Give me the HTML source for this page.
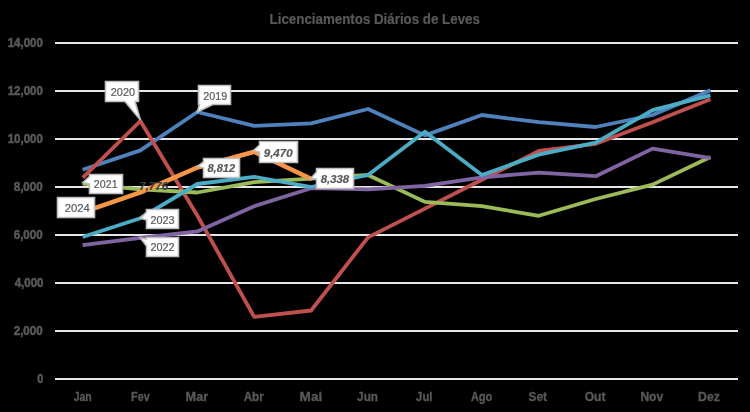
<!DOCTYPE html>
<html><head><meta charset="utf-8"><title>Licenciamentos Diários de Leves</title><style>
html,body{margin:0;padding:0;background:#000;}
body{width:750px;height:412px;overflow:hidden;}
svg{display:block;}
text{font-family:"Liberation Sans",sans-serif;}
</style></head><body>
<svg style="will-change:transform" width="750" height="412" viewBox="0 0 750 412">
<rect width="750" height="412" fill="#000"/>
<text x="269.60" y="24.00" font-size="15.28" font-weight="bold" stroke="#595959" stroke-width="0.2" fill="#595959" textLength="210.29" lengthAdjust="spacingAndGlyphs">Licenciamentos Diários de Leves</text>
<rect x="55" y="42" width="683" height="2" fill="#E6E6E6"/>
<rect x="55" y="90" width="683" height="2" fill="#E6E6E6"/>
<rect x="55" y="138" width="683" height="2" fill="#E6E6E6"/>
<rect x="55" y="186" width="683" height="2" fill="#E6E6E6"/>
<rect x="55" y="234" width="683" height="2" fill="#E6E6E6"/>
<rect x="55" y="282" width="683" height="2" fill="#E6E6E6"/>
<rect x="55" y="330" width="683" height="2" fill="#E6E6E6"/>
<rect x="55" y="378" width="683" height="2" fill="#E6E6E6"/>
<text x="7.70" y="47.00" font-size="12.50" font-weight="bold" stroke="#595959" stroke-width="0.5" fill="#595959" textLength="35.08" lengthAdjust="spacingAndGlyphs">14,000</text>
<text x="7.70" y="95.00" font-size="12.50" font-weight="bold" stroke="#595959" stroke-width="0.5" fill="#595959" textLength="35.08" lengthAdjust="spacingAndGlyphs">12,000</text>
<text x="7.70" y="143.00" font-size="12.50" font-weight="bold" stroke="#595959" stroke-width="0.5" fill="#595959" textLength="35.08" lengthAdjust="spacingAndGlyphs">10,000</text>
<text x="13.70" y="191.00" font-size="12.50" font-weight="bold" stroke="#595959" stroke-width="0.5" fill="#595959" textLength="29.06" lengthAdjust="spacingAndGlyphs">8,000</text>
<text x="13.70" y="239.00" font-size="12.50" font-weight="bold" stroke="#595959" stroke-width="0.5" fill="#595959" textLength="29.06" lengthAdjust="spacingAndGlyphs">6,000</text>
<text x="14.70" y="287.00" font-size="12.50" font-weight="bold" stroke="#595959" stroke-width="0.5" fill="#595959" textLength="28.83" lengthAdjust="spacingAndGlyphs">4,000</text>
<text x="13.70" y="335.00" font-size="12.50" font-weight="bold" stroke="#595959" stroke-width="0.5" fill="#595959" textLength="29.06" lengthAdjust="spacingAndGlyphs">2,000</text>
<text x="37.20" y="383.00" font-size="12.50" font-weight="bold" stroke="#595959" stroke-width="0.5" fill="#595959" textLength="6.02" lengthAdjust="spacingAndGlyphs">0</text>
<text x="73.66" y="401.00" font-size="12.50" font-weight="bold" stroke="#595959" stroke-width="0.3" fill="#595959" textLength="18.14" lengthAdjust="spacingAndGlyphs">Jan</text>
<text x="131.10" y="401.00" font-size="12.50" font-weight="bold" stroke="#595959" stroke-width="0.3" fill="#595959" textLength="18.60" lengthAdjust="spacingAndGlyphs">Fev</text>
<text x="185.61" y="401.00" font-size="12.50" font-weight="bold" stroke="#595959" stroke-width="0.3" fill="#595959" textLength="22.60" lengthAdjust="spacingAndGlyphs">Mar</text>
<text x="243.70" y="401.00" font-size="12.50" font-weight="bold" stroke="#595959" stroke-width="0.3" fill="#595959" textLength="20.12" lengthAdjust="spacingAndGlyphs">Abr</text>
<text x="299.60" y="401.00" font-size="12.50" font-weight="bold" stroke="#595959" stroke-width="0.3" fill="#595959" textLength="22.64" lengthAdjust="spacingAndGlyphs">Mai</text>
<text x="357.10" y="401.00" font-size="12.50" font-weight="bold" stroke="#595959" stroke-width="0.3" fill="#595959" textLength="20.90" lengthAdjust="spacingAndGlyphs">Jun</text>
<text x="416.09" y="401.00" font-size="12.50" font-weight="bold" stroke="#595959" stroke-width="0.3" fill="#595959" textLength="16.39" lengthAdjust="spacingAndGlyphs">Jul</text>
<text x="470.90" y="401.00" font-size="12.50" font-weight="bold" stroke="#595959" stroke-width="0.3" fill="#595959" textLength="21.41" lengthAdjust="spacingAndGlyphs">Ago</text>
<text x="528.60" y="401.00" font-size="12.50" font-weight="bold" stroke="#595959" stroke-width="0.3" fill="#595959" textLength="18.43" lengthAdjust="spacingAndGlyphs">Set</text>
<text x="584.70" y="401.00" font-size="12.50" font-weight="bold" stroke="#595959" stroke-width="0.3" fill="#595959" textLength="20.77" lengthAdjust="spacingAndGlyphs">Out</text>
<text x="640.40" y="401.00" font-size="12.50" font-weight="bold" stroke="#595959" stroke-width="0.3" fill="#595959" textLength="22.84" lengthAdjust="spacingAndGlyphs">Nov</text>
<text x="698.05" y="401.00" font-size="12.50" font-weight="bold" stroke="#595959" stroke-width="0.3" fill="#595959" textLength="21.76" lengthAdjust="spacingAndGlyphs">Dez</text>
<polyline points="82.61,169.77 140.38,150.40 197.29,112.00 254.21,125.80 311.12,123.40 368.04,109.00 424.96,135.40 481.88,115.00 538.79,122.20 595.71,127.00 652.62,115.00 710.37,90.24" fill="none" stroke="#4F81BD" stroke-width="3.8" stroke-linejoin="round" stroke-linecap="butt"/>
<polyline points="82.82,177.55 140.38,121.00 197.29,215.51 254.21,316.84 311.12,310.50 368.04,237.40 424.96,208.60 481.88,179.80 538.79,151.00 595.71,143.80 652.62,122.20 710.38,99.16" fill="none" stroke="#C0504D" stroke-width="3.8" stroke-linejoin="round" stroke-linecap="butt"/>
<polyline points="82.56,183.62 140.38,189.40 197.29,192.50 254.21,182.20 311.12,178.60 368.04,175.00 424.96,201.88 481.88,206.20 538.79,215.80 595.71,199.00 652.62,184.60 710.35,157.09" fill="none" stroke="#9BBB59" stroke-width="3.8" stroke-linejoin="round" stroke-linecap="butt"/>
<polyline points="82.57,245.12 140.38,237.90 197.29,231.40 254.21,206.20 311.12,188.20 368.04,189.40 424.96,185.80 481.88,177.40 538.79,172.60 595.71,176.20 652.62,148.60 710.43,158.11" fill="none" stroke="#8064A2" stroke-width="3.8" stroke-linejoin="round" stroke-linecap="butt"/>
<polyline points="82.60,236.96 140.38,218.20 197.29,184.00 254.21,176.80 311.12,187.00 368.04,175.00 424.96,131.80 481.88,175.00 538.79,154.60 595.71,142.60 652.62,110.20 710.41,95.29" fill="none" stroke="#4BACC6" stroke-width="3.8" stroke-linejoin="round" stroke-linecap="butt"/>
<polyline points="82.61,212.40 140.38,192.38 197.29,167.51 254.21,151.72 311.94,179.28" fill="none" stroke="#F79646" stroke-width="4.6" stroke-linejoin="round" stroke-linecap="butt"/>
<path d="M105.5,81.5 H138.5 V101.5 H135 L140.4,120 L125,101.5 H105.5 Z" fill="#FFFFFF" stroke="#BFBFBF" stroke-width="1.6" stroke-linejoin="miter"/>
<text x="110.73" y="96.00" font-size="11.80" stroke="#595959" stroke-width="0.2" fill="#595959" textLength="24.36" lengthAdjust="spacingAndGlyphs">2020</text>
<path d="M198.5,85.5 H230.5 V104.5 H212.8 L197.3,112 L199.5,104.5 H198.5 Z" fill="#FFFFFF" stroke="#BFBFBF" stroke-width="1.6" stroke-linejoin="miter"/>
<text x="203.28" y="100.00" font-size="11.80" stroke="#595959" stroke-width="0.2" fill="#595959" textLength="23.90" lengthAdjust="spacingAndGlyphs">2019</text>
<path d="M89.5,174.5 H122.5 V193.5 H89.5 V184 L82.8,182.6 L89.5,176.5 Z" fill="#FFFFFF" stroke="#BFBFBF" stroke-width="1.6" stroke-linejoin="miter"/>
<text x="93.83" y="188.00" font-size="11.80" stroke="#595959" stroke-width="0.2" fill="#595959" textLength="23.80" lengthAdjust="spacingAndGlyphs">2021</text>
<path d="M57.5,197.5 H94.5 V217.5 H57.5 Z" fill="#FFFFFF" stroke="#BFBFBF" stroke-width="1.6" stroke-linejoin="miter"/>
<text x="64.67" y="212.00" font-size="11.80" stroke="#595959" stroke-width="0.2" fill="#595959" textLength="25.20" lengthAdjust="spacingAndGlyphs">2024</text>
<path d="M146.5,209.5 H178.5 V228.5 H146.5 V220 L140.4,218.2 L146.5,212 Z" fill="#FFFFFF" stroke="#BFBFBF" stroke-width="1.6" stroke-linejoin="miter"/>
<text x="150.39" y="224.00" font-size="11.80" stroke="#595959" stroke-width="0.2" fill="#595959" textLength="24.21" lengthAdjust="spacingAndGlyphs">2023</text>
<path d="M146.5,237.5 H178.5 V256.5 H146.5 V246 L140.4,238 L146.5,239 Z" fill="#FFFFFF" stroke="#BFBFBF" stroke-width="1.6" stroke-linejoin="miter"/>
<text x="150.39" y="251.00" font-size="11.80" stroke="#595959" stroke-width="0.2" fill="#595959" textLength="24.26" lengthAdjust="spacingAndGlyphs">2022</text>
<text x="139.20" y="189.50" font-size="11.81" font-weight="bold" font-style="italic" stroke="#404040" stroke-width="0.2" fill="#404040" textLength="29.01" lengthAdjust="spacingAndGlyphs">7,776</text>
<path d="M203.5,158.5 H239.5 V177.5 H203.5 V168 L197.8,166.2 L203.5,162 Z" fill="#FFFFFF" stroke="#BFBFBF" stroke-width="1.6" stroke-linejoin="miter"/>
<text x="207.45" y="172.00" font-size="11.81" font-weight="bold" font-style="italic" stroke="#595959" stroke-width="0.2" fill="#595959" textLength="27.79" lengthAdjust="spacingAndGlyphs">8,812</text>
<path d="M259.5,141.5 H297.5 V162.5 H259.5 V152 L253.6,150.5 L259.5,145 Z" fill="#FFFFFF" stroke="#BFBFBF" stroke-width="1.6" stroke-linejoin="miter"/>
<text x="263.72" y="156.50" font-size="11.81" font-weight="bold" font-style="italic" stroke="#595959" stroke-width="0.2" fill="#595959" textLength="28.95" lengthAdjust="spacingAndGlyphs">9,470</text>
<path d="M316.5,168.5 H353.5 V188.5 H316.5 V179 L310.8,178.6 L316.5,172 Z" fill="#FFFFFF" stroke="#BFBFBF" stroke-width="1.6" stroke-linejoin="miter"/>
<text x="320.75" y="183.00" font-size="11.81" font-weight="bold" font-style="italic" stroke="#595959" stroke-width="0.2" fill="#595959" textLength="28.39" lengthAdjust="spacingAndGlyphs">8,338</text>
</svg>
</body></html>
